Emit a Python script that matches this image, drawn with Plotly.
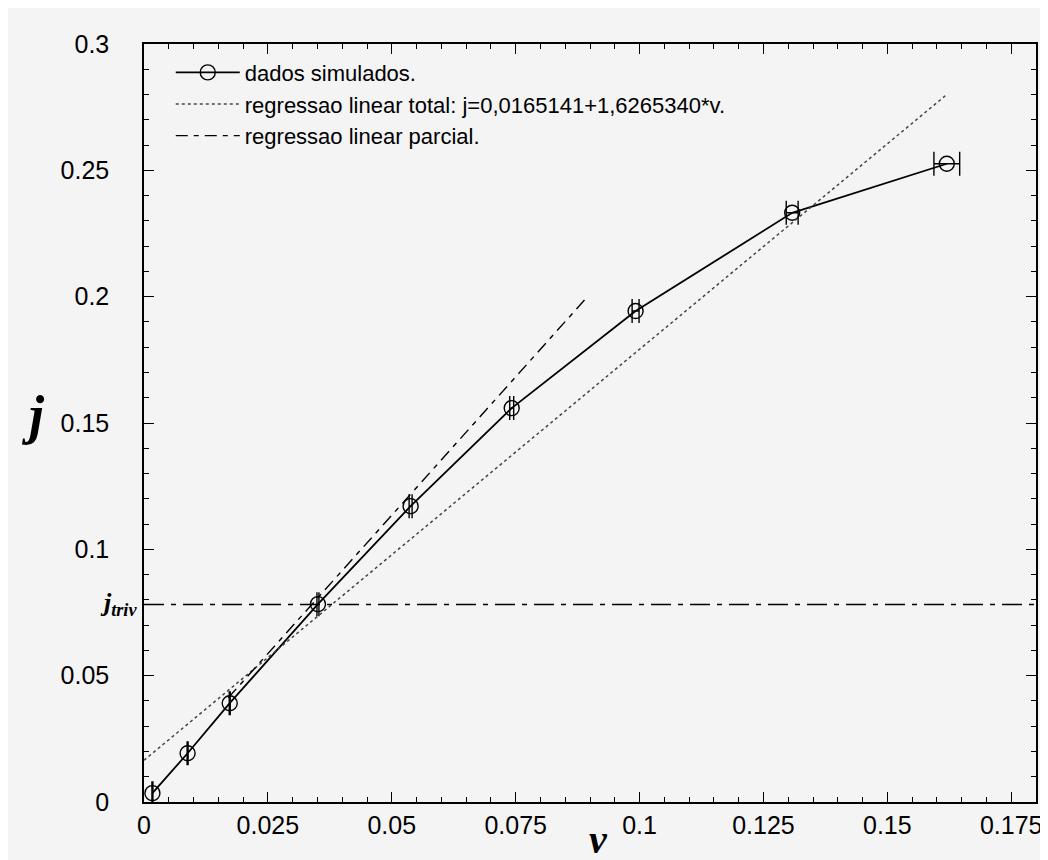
import plotly.graph_objects as go

# ---- data ----
v_sim = [0.0017, 0.0088, 0.0173, 0.0351, 0.0538, 0.0742, 0.0992, 0.1308, 0.1620]
j_sim = [0.0035, 0.0193, 0.0391, 0.0783, 0.1171, 0.1559, 0.1943, 0.2332, 0.2526]
dv_sim = [0.0001, 0.0001, 0.0001, 0.0002, 0.0003, 0.0004, 0.0007, 0.0012, 0.0026]

# total linear regression (from legend)
reg_tot_a = 0.0165141
reg_tot_b = 1.6265340
reg_tot_v = [0.0, 0.1620]

# partial linear regression (estimated)
reg_par_a = 0.0040
reg_par_b = 2.19
reg_par_v = [0.0170, 0.0893]

# trivial current level
j_triv = 0.0782
triv_v = [0.0, 0.18]

x_ticks = [0, 0.025, 0.05, 0.075, 0.1, 0.125, 0.15, 0.175]
x_ticktext = ["0", "0.025", "0.05", "0.075", "0.1", "0.125", "0.15", "0.175"]
y_ticks = [0, 0.05, 0.1, 0.15, 0.2, 0.25, 0.3]
y_ticktext = ["0", "0.05", "0.1", "0.15", "0.2", "0.25", "0.3"]

reg_tot_j = [reg_tot_a + reg_tot_b * v for v in reg_tot_v]
reg_par_j = [reg_par_a + reg_par_b * v for v in reg_par_v]

SANS = "Liberation Sans, Arial, sans-serif"
SERIF = "Liberation Serif, Times New Roman, serif"

fig = go.Figure()

fig.add_trace(go.Scatter(
    x=v_sim, y=j_sim, mode="lines+markers", name="dados simulados.",
    line=dict(color="black", width=1.8),
    marker=dict(symbol="circle-open", size=15, color="black", line=dict(width=1.4)),
    error_x=dict(type="data", array=dv_sim, visible=True, color="black",
                 thickness=1.4, width=12),
))

fig.add_trace(go.Scatter(
    x=reg_tot_v, y=reg_tot_j, mode="lines",
    name="regressao linear total: j=0,0165141+1,6265340*v.",
    line=dict(color="#444444", width=1.5, dash="dot"),
))

fig.add_trace(go.Scatter(
    x=reg_par_v, y=reg_par_j, mode="lines",
    name="regressao linear parcial.",
    line=dict(color="black", width=1.4, dash="12px,6px,5px,6px"),
))

fig.add_trace(go.Scatter(
    x=triv_v, y=[j_triv, j_triv], mode="lines", showlegend=False,
    line=dict(color="black", width=1.5, dash="20px,7px,5px,7px"),
))

axis_common = dict(
    showgrid=False, zeroline=False, showline=True, linecolor="black",
    linewidth=1.5, mirror="allticks", ticks="inside", ticklen=10,
    tickwidth=1.2, tickcolor="black",
    tickfont=dict(family=SANS, size=25, color="black"),
)

fig.update_xaxes(
    range=[0, 0.18], tickvals=x_ticks, ticktext=x_ticktext,
    minor=dict(dtick=0.005, ticks="inside", ticklen=5, tickwidth=1.2, tickcolor="black"),
    ticklabelstandoff=0,
    **axis_common,
)
fig.update_yaxes(
    range=[0, 0.3], tickvals=y_ticks, ticktext=y_ticktext,
    minor=dict(dtick=0.01, ticks="inside", ticklen=5, tickwidth=1.2, tickcolor="black"),
    ticklabelstandoff=28,
    **axis_common,
)

fig.update_layout(
    width=1048, height=860,
    margin=dict(l=136, r=20, t=36, b=66),
    paper_bgcolor="#f4f4f4", plot_bgcolor="#f4f4f4",
    showlegend=True,
    legend=dict(x=0.03, y=0.99, xanchor="left", yanchor="top",
                bgcolor="rgba(0,0,0,0)", borderwidth=0,
                font=dict(family=SANS, size=22, color="black"),
                itemwidth=64, tracegroupgap=4),
    annotations=[
        dict(text="<b><i>j</i></b>", xref="paper", yref="paper",
             x=-0.125, y=0.51, xanchor="center", yanchor="middle", showarrow=False,
             font=dict(family=SERIF, size=54, color="black")),
        dict(text="<b><i>v</i></b>", xref="paper", yref="paper",
             x=0.51, y=-0.05, xanchor="center", yanchor="middle", showarrow=False,
             font=dict(family=SERIF, size=40, color="black")),
        dict(text="<b><i>j<sub>triv</sub></i></b>", xref="paper", yref="y",
             x=-0.006, y=j_triv, xanchor="right", yanchor="middle", showarrow=False,
             font=dict(family=SERIF, size=26, color="black")),
    ],
)

fig.write_html("out.html")
